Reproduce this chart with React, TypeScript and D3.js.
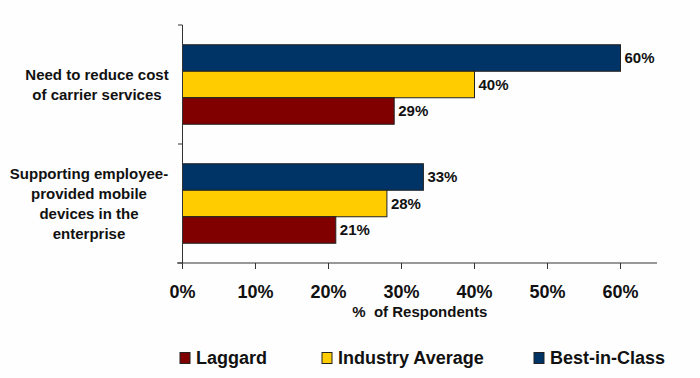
import React from "react";
import * as d3 from "d3";

const categories = [
  ["Need to reduce cost", "of carrier services"],
  ["Supporting employee-", "provided mobile", "devices in the", "enterprise"],
];
const categoryKeys = ["cost", "byod"];
const seriesNames = ["Best-in-Class", "Industry Average", "Laggard"];
const seriesColors = ["#003366", "#FFCC00", "#800000"];
const bestInClass = [60, 33];
const industryAverage = [40, 28];
const laggard = [29, 21];
const xTicks = [0, 10, 20, 30, 40, 50, 60];
const legendOrder = ["Laggard", "Industry Average", "Best-in-Class"];

const W = 700;
const H = 378;
const FONT = "Arial, 'Liberation Sans', Helvetica, sans-serif";

export default function App() {
  const values = [bestInClass, industryAverage, laggard];
  const x = d3.scaleLinear().domain([0, 65]).range([182.5, 657]);
  const y = d3.scaleBand<string>().domain(categoryKeys).range([25, 263]).padding(0);
  const inner = d3
    .scaleBand<string>()
    .domain(seriesNames)
    .range([0, y.bandwidth()])
    .paddingInner(0)
    .paddingOuter(0.745);

  const legendX = [180, 322, 534];

  return (
    <svg
      width={W}
      height={H}
      style={{ position: "absolute", left: 0, top: 0, background: "#fff" }}
      fontFamily={FONT}
    >
      <rect x={0} y={0} width={W} height={H} fill="#fefefe" />
      {/* bars */}
      {categoryKeys.map((ck, ci) =>
        seriesNames.map((s, si) => {
          const v = values[si][ci];
          const y0 = (y(ck) as number) + (inner(s) as number);
          return (
            <g key={ck + s}>
              <rect
                x={x(0)}
                y={y0}
                width={x(v) - x(0)}
                height={inner.bandwidth()}
                fill={seriesColors[si]}
                stroke="#222"
                strokeWidth={1}
              />
              <text
                x={x(v) + 4}
                y={y0 + inner.bandwidth() / 2}
                dy="0.36em"
                fontSize={15}
                fontWeight="bold"
                fill="#111"
              >
                {v}%
              </text>
            </g>
          );
        })
      )}
      {/* y axis */}
      <line x1={182.5} x2={182.5} y1={25} y2={263} stroke="#333" strokeWidth={1} />
      {[25, ...categoryKeys.map((ck) => (y(ck) as number) + y.bandwidth())].map((t, i) => (
        <line key={"yt" + i} x1={178} x2={182.5} y1={t} y2={t} stroke="#333" />
      ))}
      {/* x axis */}
      <line x1={177} x2={657} y1={263} y2={263} stroke="#333" strokeWidth={1} />
      {xTicks.map((t) => (
        <g key={"xt" + t}>
          <line x1={x(t)} x2={x(t)} y1={263} y2={269} stroke="#333" />
          <text
            x={x(t)}
            y={292}
            dy="0.36em"
            textAnchor="middle"
            fontSize={18}
            fontWeight="bold"
            fill="#111"
          >
            {t}%
          </text>
        </g>
      ))}
      <text
        x={x(32.5)}
        y={312}
        dy="0.36em"
        textAnchor="middle"
        fontSize={15}
        fontWeight="bold"
        fill="#111"
        style={{ whiteSpace: "pre" }}
      >
        {"%  of Respondents"}
      </text>
      {/* category labels */}
      {categories.map((lines, ci) => {
        const cy = (y(categoryKeys[ci]) as number) + y.bandwidth() / 2;
        const lh = 20;
        const start = cy - ((lines.length - 1) * lh) / 2;
        return (
          <text
            key={"cat" + ci}
            x={ci === 0 ? 97 : 89}
            textAnchor="middle"
            fontSize={15}
            fontWeight="bold"
            fill="#111"
          >
            {lines.map((l, li) => (
              <tspan key={li} x={ci === 0 ? 97 : 89} y={start + li * lh} dy="0.36em">
                {l}
              </tspan>
            ))}
          </text>
        );
      })}
      {/* legend */}
      {legendOrder.map((name, i) => {
        const si = seriesNames.indexOf(name);
        return (
          <g key={"lg" + name}>
            <rect
              x={legendX[i]}
              y={352.5}
              width={10}
              height={11}
              fill={seriesColors[si]}
              stroke="#222"
            />
            <text
              x={legendX[i] + 16}
              y={358}
              dy="0.36em"
              fontSize={18}
              fontWeight="bold"
              fill="#111"
            >
              {name}
            </text>
          </g>
        );
      })}
    </svg>
  );
}
